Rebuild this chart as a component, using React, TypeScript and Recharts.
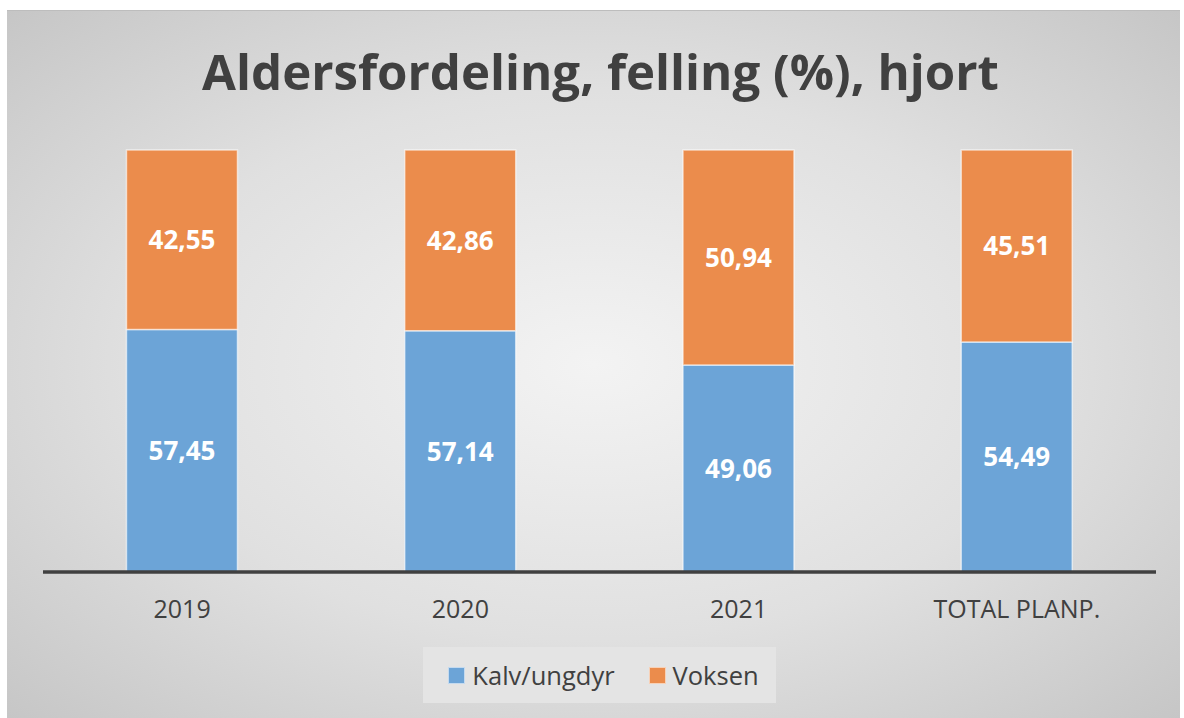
import React from 'react';
import { BarChart, Bar, XAxis, YAxis, Legend, LabelList } from 'recharts';

const categories = ['2019', '2020', '2021', 'TOTAL PLANP.'];
const kalvUngdyr = [57.45, 57.14, 49.06, 54.49];
const voksen = [42.55, 42.86, 50.94, 45.51];

const seriesNames = { kalv: 'Kalv/ungdyr', voksen: 'Voksen' };
const colors = { kalv: '#6ca4d7', voksen: '#eb8c4c' };

const data = categories.map((name, i) => ({
  name,
  kalv: kalvUngdyr[i],
  voksen: voksen[i],
}));

const fontFamily = '"Open Sans", sans-serif';
const fmt = (v: any) => Number(v).toFixed(2).replace('.', ',');

const LegendBox = () => (
  <div style={{ display: 'flex', justifyContent: 'center' }}>
    <div
      style={{
        width: 353,
        height: 56,
        background: '#e4e4e4',
        display: 'flex',
        alignItems: 'center',
        justifyContent: 'center',
        gap: 34,
        paddingLeft: 8,
        boxSizing: 'border-box',
        fontFamily,
        fontSize: 25.5,
        color: '#404040',
      }}
    >
      {(['kalv', 'voksen'] as const).map((k) => (
        <div key={k} style={{ display: 'flex', alignItems: 'center', gap: 7 }}>
          <span
            style={{
              width: 15,
              height: 15,
              background: colors[k],
              border: '1.5px solid rgba(255,255,255,0.6)',
              display: 'inline-block',
            }}
          />
          <span>{seriesNames[k]}</span>
        </div>
      ))}
    </div>
  </div>
);

export default function App() {
  return (
    <div
      style={{
        position: 'absolute',
        left: 7,
        top: 10,
        width: 1173,
        height: 708,
        background: 'radial-gradient(ellipse at center, #f3f3f3 0%, #e0e0e0 55%, #c6c6c6 100%)',
        borderTop: '1px solid #bdbdbd',
        boxSizing: 'border-box',
        overflow: 'hidden',
      }}
    >
      <div
        style={{
          position: 'absolute',
          top: 35,
          left: 7,
          width: '100%',
          textAlign: 'center',
          fontFamily,
          fontWeight: 700,
          fontSize: 49.2,
          lineHeight: '50px',
          color: '#404040',
        }}
      >
        Aldersfordeling, felling (%), hjort
      </div>
      <BarChart
        width={1173}
        height={708}
        data={data}
        margin={{ top: 139, right: 24, bottom: 16, left: 36 }}
        barCategoryGap="30%"
        style={{ position: 'absolute', top: 0, left: 0 }}
      >
        <XAxis
          dataKey="name"
          height={75}
          axisLine={{ stroke: '#404040', strokeWidth: 3.5 }}
          tickLine={false}
          tickSize={0}
          tickMargin={28}
          tick={{ fill: '#404040', fontSize: 25, fontFamily }}
        />
        <YAxis hide domain={[0, 100]} />
        <Legend verticalAlign="bottom" content={<LegendBox />} />
        <Bar
          dataKey="kalv"
          stackId="a"
          fill={colors.kalv}
          stroke="rgba(255,255,255,0.6)"
          strokeWidth={1.5}
          isAnimationActive={false}
        >
          <LabelList
            dataKey="kalv"
            position="center"
            formatter={fmt}
            fill="#ffffff"
            style={{ fontFamily, fontWeight: 700, fontSize: 26 }}
          />
        </Bar>
        <Bar
          dataKey="voksen"
          stackId="a"
          fill={colors.voksen}
          stroke="rgba(255,255,255,0.6)"
          strokeWidth={1.5}
          isAnimationActive={false}
        >
          <LabelList
            dataKey="voksen"
            position="center"
            formatter={fmt}
            fill="#ffffff"
            style={{ fontFamily, fontWeight: 700, fontSize: 26 }}
          />
        </Bar>
      </BarChart>
    </div>
  );
}
